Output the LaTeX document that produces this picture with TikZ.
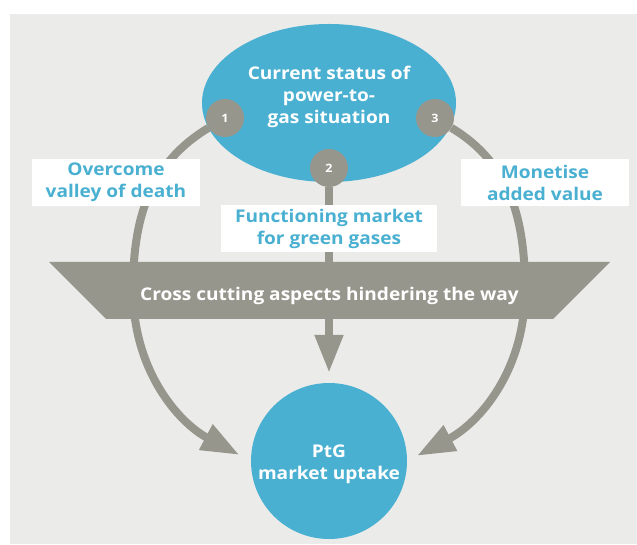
\documentclass[tikz,border=0pt]{standalone}
\usepackage{fontspec}
\setmainfont{Open Sans}[FakeStretch=1.09]
\usepackage{xcolor}
\usepackage{tikz}
\usetikzlibrary{arrows.meta}
\usetikzlibrary{shapes.geometric}
\definecolor{ptgblue}{HTML}{4AB0D1}
\definecolor{ptggrey}{HTML}{97968D}
\definecolor{ptgback}{HTML}{EBEBE9}
\tikzset{>=latex}
\tikzstyle{blob} = [ellipse, fill=ptgblue, inner sep=0pt]
\tikzstyle{txt} = [text=white, align=center, font=\bfseries\fontsize{17.5}{22}\selectfont]
\tikzstyle{badge} = [circle, fill=ptggrey, text=white, minimum size=38pt, inner sep=0pt, font=\bfseries\fontsize{11.5}{11.5}\selectfont]
\tikzstyle{tagbox} = [rectangle, fill=white, text=ptgblue, align=center, minimum height=47pt, inner sep=0pt, font=\bfseries\fontsize{17.5}{22}\selectfont]
\tikzstyle{flow} = [-{Triangle[length=38pt, width=27pt]}, draw=ptggrey, line width=8pt]

\begin{document}
\begin{tikzpicture}[x=1pt, y=1pt]
\useasboundingbox (0,0) rectangle (637,544);
\fill [ptgback] (10,0) rectangle (637,530);
\node [blob, minimum width=254pt, minimum height=158pt] (status) at (329,441) {};
\node [txt] (statustxt) at (329,447) {Current status of\\power-to-\\gas situation};
\node [blob, minimum size=156pt] (ptg) at (329,83) {};
\node [txt] (ptgtxt) at (329,80) {PtG\\market uptake};
\node [badge] (b1) at (225,426) {1};
\node [badge] (b2) at (329,376) {2};
\node [badge] (b3) at (435,426) {3};
\coordinate (lft) at (133,254);
\coordinate (rgt) at (525,254);
% the three ways down
\draw [flow, shorten >=13pt] (b1) to[out=211, in=90] (lft) to[out=-90, in=152] (ptg.west);
\draw [flow, shorten >=11pt] (b3) to[out=-31, in=90] (rgt) to[out=-90, in=28] (ptg.east);
\draw [flow, shorten >=10pt] (b2) -- (ptg);
\node [tagbox, minimum width=168pt] (valley) at (116,361.5) {Overcome\\valley of death};
\node [tagbox, minimum width=216pt] (market) at (329,315.5) {Functioning market\\for green gases};
\node [tagbox, minimum width=168pt] (value) at (545,361.5) {Monetise\\added value};
\fill [ptggrey] (49,282) -- (610,282) -- (553,225) -- (106,225) -- cycle;
\node [txt] (hinder) at (329.5,248) {Cross cutting aspects hindering the way};
\end{tikzpicture}
\end{document}
